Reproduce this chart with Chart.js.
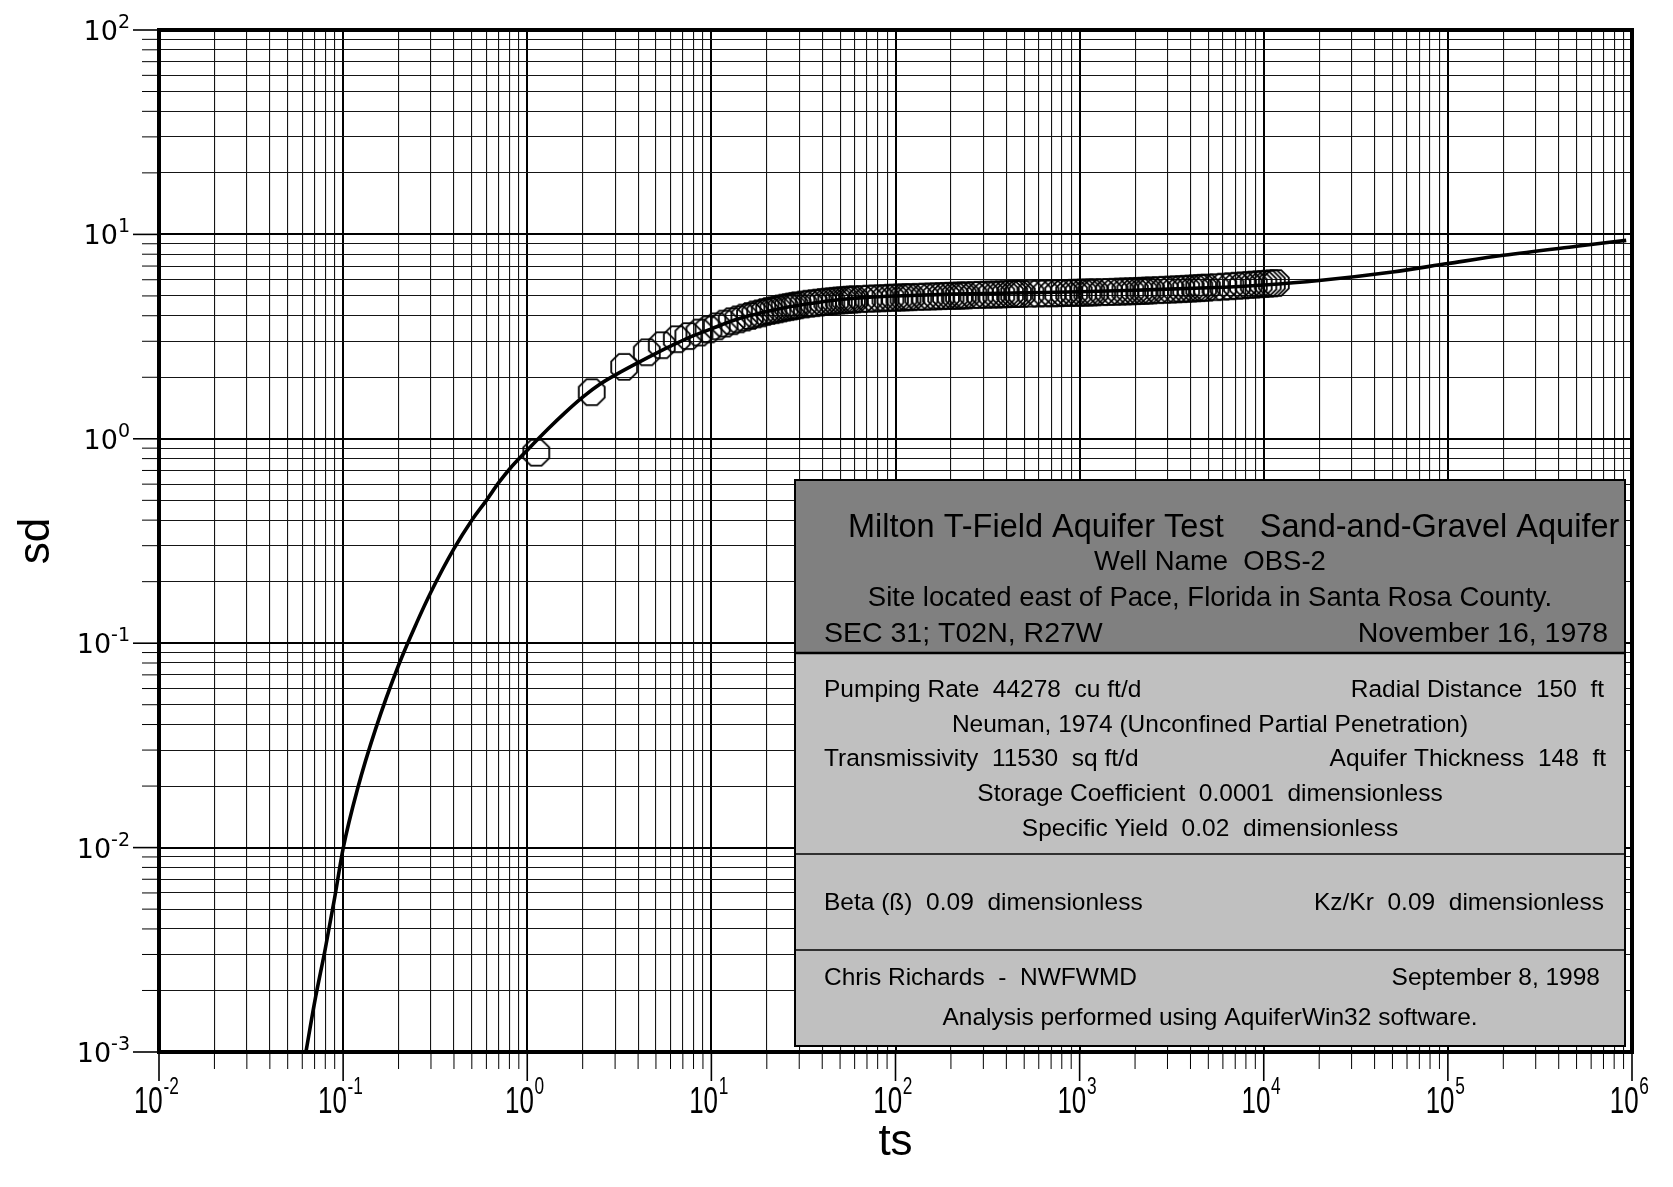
<!DOCTYPE html>
<html><head><meta charset="utf-8">
<script src="https://cdn.jsdelivr.net/npm/chart.js@4.4.1/dist/chart.umd.min.js"></script>
<style>html,body{margin:0;padding:0;background:#fff;overflow:hidden}canvas{display:block}</style>
</head><body>
<canvas id="c" width="1673" height="1187"></canvas>
<script>
// ---- data ----
const curveTs = [0.0628, 0.07, 0.08, 0.09, 0.1, 0.12, 0.15, 0.2, 0.25, 0.3, 0.4, 0.5, 0.6, 0.7, 0.8, 1.0, 1.3, 1.6, 2.0, 2.5, 3.0, 4.0, 5.0, 6.0, 8.0, 10, 13, 16, 20, 25, 30, 40, 50, 70, 100, 200, 500, 1000, 2000, 5000, 10000, 20000, 50000, 100000, 200000, 500000, 930000];
const curveSd = [0.001, 0.00175, 0.0032, 0.0057, 0.0099, 0.0195, 0.038, 0.078, 0.125, 0.178, 0.29, 0.40, 0.50, 0.61, 0.71, 0.88, 1.12, 1.34, 1.60, 1.86, 2.05, 2.36, 2.62, 2.84, 3.20, 3.45, 3.78, 4.00, 4.20, 4.38, 4.50, 4.68, 4.80, 4.92, 5.00, 5.10, 5.18, 5.24, 5.33, 5.48, 5.66, 5.95, 6.55, 7.2, 7.9, 8.75, 9.35];

const obsTs = [1.12, 2.24, 3.36, 4.46, 5.38, 6.49, 7.5, 8.61, 9.64,
  10.7, 11.8, 12.9, 14.0, 15.1, 16.2, 17.3, 18.4, 19.5, 20.6, 21.7, 22.8, 23.9, 25.0, 26.1, 27.2, 28.3, 29.4,
  31.6, 33.8, 36.0, 38.2, 40.4, 42.6, 44.8, 47.0, 49.2, 51.4, 53.6, 55.8, 58.0, 60.2,
  65.8, 71.4, 77.0, 82.6, 88.2, 93.8, 99.4, 105, 110.6, 116.2, 121.8,
  133, 144, 155, 166, 177, 188, 199, 210, 221, 232, 243,
  265, 287, 309, 331, 353, 375, 397, 419, 441, 463, 485,
  541, 597, 653, 709, 765, 821, 877, 933, 989, 1045, 1101, 1157, 1213,
  1325, 1437, 1549, 1661, 1773, 1885, 1997, 2109, 2221, 2333, 2445,
  2669, 2893, 3117, 3341, 3565, 3789, 4013, 4237, 4461, 4685, 4909,
  5469, 6029, 6589, 7149, 7709, 8269, 8829, 9389, 9949, 10509, 11069, 11629];
const obsSd = [0.855, 1.69, 2.25, 2.65, 2.87, 3.07, 3.18, 3.31, 3.43,
  3.55, 3.66, 3.76, 3.84, 3.92, 3.99, 4.06, 4.11, 4.17, 4.22, 4.26, 4.30, 4.34, 4.38, 4.41, 4.44, 4.47, 4.50,
  4.54, 4.58, 4.61, 4.64, 4.67, 4.69, 4.71, 4.73, 4.75, 4.76, 4.78, 4.79, 4.80, 4.81,
  4.83, 4.85, 4.86, 4.87, 4.88, 4.90, 4.90, 4.91, 4.92, 4.93, 4.93,
  4.95, 4.96, 4.97, 4.98, 4.99, 5.00, 5.01, 5.01, 5.02, 5.03, 5.03,
  5.05, 5.06, 5.07, 5.08, 5.08, 5.09, 5.10, 5.11, 5.11, 5.12, 5.12,
  5.13, 5.14, 5.15, 5.15, 5.16, 5.17, 5.17, 5.18, 5.18, 5.19, 5.20, 5.20, 5.21,
  5.22, 5.23, 5.24, 5.25, 5.26, 5.27, 5.28, 5.29, 5.30, 5.31, 5.32,
  5.34, 5.36, 5.37, 5.39, 5.40, 5.42, 5.43, 5.45, 5.46, 5.48, 5.49,
  5.52, 5.55, 5.58, 5.61, 5.63, 5.66, 5.68, 5.70, 5.72, 5.74, 5.76, 5.78];

const xTickExponents = [-2, -1, 0, 1, 2, 3, 4, 5, 6];
const yTickExponents = [-3, -2, -1, 0, 1, 2];
const xTitle = 'ts';
const yTitle = 'sd';

const headerLines = [
  'Milton T-Field Aquifer Test    Sand-and-Gravel Aquifer',
  'Well Name  OBS-2',
  'Site located east of Pace, Florida in Santa Rosa County.'
];
const headerPair = ['SEC 31; T02N, R27W', 'November 16, 1978'];
const paramPair1 = ['Pumping Rate  44278  cu ft/d', 'Radial Distance  150  ft'];
const paramLine1 = 'Neuman, 1974 (Unconfined Partial Penetration)';
const paramPair2 = ['Transmissivity  11530  sq ft/d', 'Aquifer Thickness  148  ft'];
const paramLine2 = 'Storage Coefficient  0.0001  dimensionless';
const paramLine3 = 'Specific Yield  0.02  dimensionless';
const paramPair3 = ['Beta (ß)  0.09  dimensionless', 'Kz/Kr  0.09  dimensionless'];
const footerPair = ['Chris Richards  -  NWFWMD', 'September 8, 1998'];
const footerLine = 'Analysis performed using AquiferWin32 software.';

// ---- helpers ----
function decadeTicks(exps) {
  const out = [];
  for (let i = 0; i < exps.length; i++) {
    const base = Math.pow(10, exps[i]);
    out.push({ value: base, major: true });
    if (i < exps.length - 1) {
      for (let m = 2; m <= 9; m++) out.push({ value: m * base, major: false });
    }
  }
  return out;
}

function octagonCanvas(r, lw, color) {
  const s = Math.ceil(2 * r + lw * 2 + 2);
  const c = document.createElement('canvas');
  c.width = s; c.height = s;
  const g = c.getContext('2d');
  g.strokeStyle = color; g.lineWidth = lw;
  g.beginPath();
  for (let k = 0; k < 8; k++) {
    const ang = Math.PI / 8 + k * Math.PI / 4;
    const x = s / 2 + r * Math.cos(ang), y = s / 2 + r * Math.sin(ang);
    if (k === 0) g.moveTo(x, y); else g.lineTo(x, y);
  }
  g.closePath(); g.stroke();
  return c;
}

const FONT = '"Liberation Sans", Arial, sans-serif';

const decor = {
  id: 'decor',
  afterDatasetsDraw(chart) {
    const ctx = chart.ctx, xs = chart.scales.x, ys = chart.scales.y, a = chart.chartArea;
    ctx.save();

    // ---- info box ----
    const bl = 795, br = 1625, bt = 480, hb = 653, l1 = 854, l2 = 950, bb = 1046;
    const cx = (bl + br) / 2, tl = 824;
    ctx.fillStyle = '#808080'; ctx.fillRect(bl, bt, br - bl, hb - bt);
    ctx.fillStyle = '#c0c0c0'; ctx.fillRect(bl, hb, br - bl, bb - hb);
    ctx.strokeStyle = '#000';
    ctx.lineWidth = 1.5;
    ctx.beginPath(); ctx.moveTo(bl, l1); ctx.lineTo(br, l1); ctx.moveTo(bl, l2); ctx.lineTo(br, l2); ctx.stroke();
    ctx.lineWidth = 2.5;
    ctx.beginPath(); ctx.moveTo(bl, hb); ctx.lineTo(br, hb); ctx.stroke();
    ctx.lineWidth = 2;
    ctx.strokeRect(bl, bt, br - bl, bb - bt);

    ctx.fillStyle = '#000';
    ctx.textBaseline = 'middle';
    // header
    ctx.save();
    ctx.beginPath(); ctx.rect(bl, bt, br - bl - 2, hb - bt); ctx.clip();
    ctx.font = '32.5px ' + FONT; ctx.textAlign = 'left';
    ctx.fillText(headerLines[0], 848, 528);
    ctx.restore();
    ctx.font = '27.5px ' + FONT; ctx.textAlign = 'center';
    ctx.fillText(headerLines[1], cx, 562);
    ctx.fillText(headerLines[2], cx, 598);
    ctx.font = '28.5px ' + FONT;
    ctx.textAlign = 'left'; ctx.fillText(headerPair[0], tl, 634);
    ctx.textAlign = 'right'; ctx.fillText(headerPair[1], 1608, 634);
    // params
    ctx.font = '24.5px ' + FONT;
    ctx.textAlign = 'left'; ctx.fillText(paramPair1[0], tl, 690);
    ctx.textAlign = 'right'; ctx.fillText(paramPair1[1], 1604, 690);
    ctx.textAlign = 'center'; ctx.fillText(paramLine1, cx, 725);
    ctx.textAlign = 'left'; ctx.fillText(paramPair2[0], tl, 759);
    ctx.textAlign = 'right'; ctx.fillText(paramPair2[1], 1606, 759);
    ctx.textAlign = 'center'; ctx.fillText(paramLine2, cx, 794);
    ctx.fillText(paramLine3, cx, 829);
    ctx.textAlign = 'left'; ctx.fillText(paramPair3[0], tl, 903);
    ctx.textAlign = 'right'; ctx.fillText(paramPair3[1], 1604, 903);
    ctx.textAlign = 'left'; ctx.fillText(footerPair[0], tl, 978);
    ctx.textAlign = 'right'; ctx.fillText(footerPair[1], 1600, 978);
    ctx.textAlign = 'center'; ctx.fillText(footerLine, cx, 1018);

    // ---- tick marks outside ----
    ctx.strokeStyle = '#000';
    xs.ticks.forEach(t => {
      const px = xs.getPixelForValue(t.value);
      ctx.lineWidth = t.major ? 1.6 : 1;
      ctx.beginPath(); ctx.moveTo(px, a.bottom); ctx.lineTo(px, a.bottom + (t.major ? 29 : 17)); ctx.stroke();
    });
    ys.ticks.forEach(t => {
      const py = ys.getPixelForValue(t.value);
      ctx.lineWidth = t.major ? 1.6 : 1;
      ctx.beginPath(); ctx.moveTo(a.left, py); ctx.lineTo(a.left - (t.major ? 26 : 17), py); ctx.stroke();
    });

    // ---- frame ----
    ctx.lineWidth = 4;
    ctx.strokeRect(a.left, a.top, a.right - a.left, a.bottom - a.top);

    // ---- x tick labels: 10^n (condensed) ----
    ctx.fillStyle = '#000';
    ctx.textBaseline = 'alphabetic';
    ctx.textAlign = 'left';
    xTickExponents.forEach(e => {
      const px = xs.getPixelForValue(Math.pow(10, e)) - 3;
      ctx.save();
      ctx.translate(px, 1113);
      ctx.scale(0.72, 1);
      ctx.font = '36px ' + FONT;
      const w1 = ctx.measureText('10').width;
      ctx.font = '24px ' + FONT;
      const w2 = ctx.measureText(String(e)).width;
      const start = -(w1 + w2) / 2;
      ctx.font = '36px ' + FONT;
      ctx.fillText('10', start, 0);
      ctx.font = '24px ' + FONT;
      ctx.fillText(String(e), start + w1 + 1, -19);
      ctx.restore();
    });

    // ---- y tick labels ----
    yTickExponents.forEach(e => {
      const py = ys.getPixelForValue(Math.pow(10, e));
      ctx.font = '27px "DejaVu Sans", sans-serif';
      const w1 = ctx.measureText('10').width;
      ctx.font = '19px "DejaVu Sans", sans-serif';
      const w2 = ctx.measureText(String(e)).width;
      const right = 130;
      ctx.font = '27px "DejaVu Sans", sans-serif';
      ctx.fillText('10', right - w1 - w2, py + 10);
      ctx.font = '19px "DejaVu Sans", sans-serif';
      ctx.fillText(String(e), right - w2, py - 2);
    });

    // ---- axis titles ----
    ctx.font = '44px ' + FONT;
    ctx.textAlign = 'center';
    ctx.textBaseline = 'middle';
    ctx.fillText(xTitle, (a.left + a.right) / 2, 1143);
    ctx.save();
    ctx.translate(37, (a.top + a.bottom) / 2);
    ctx.rotate(-Math.PI / 2);
    ctx.fillText(yTitle, 0, 0);
    ctx.restore();

    ctx.restore();
  }
};

const curveData = curveTs.map((x, i) => ({ x, y: curveSd[i] }));
const obsData = obsTs.map((x, i) => ({ x, y: obsSd[i] })).filter(p => p.y !== undefined);
const octo = octagonCanvas(14, 1.8, '#000');

const gridColor = c => (c.tick && c.tick.major) ? '#000' : '#151515';
const gridWidth = c => (c.tick && c.tick.major) ? 2 : 1.1;

new Chart(document.getElementById('c'), {
  type: 'scatter',
  data: {
    datasets: [
      { type: 'line', data: curveData, borderColor: '#000', borderWidth: 3.6, pointRadius: 0,
        cubicInterpolationMode: 'monotone', fill: false, order: 0 },
      { data: obsData, pointStyle: octo, pointRadius: 14, borderColor: '#000', backgroundColor: 'transparent',
        showLine: false, order: 1 }
    ]
  },
  options: {
    responsive: false,
    animation: false,
    devicePixelRatio: 1,
    layout: { padding: { top: 30, right: 41, left: 0, bottom: 0 } },
    plugins: { legend: { display: false }, tooltip: { enabled: false }, title: { display: false } },
    scales: {
      x: {
        type: 'logarithmic', min: 0.01, max: 1e6, position: 'bottom',
        afterBuildTicks: s => { s.ticks = decadeTicks(xTickExponents); },
        afterFit: s => { s.height = 135; },
        ticks: { display: false, autoSkip: false },
        grid: { color: gridColor, lineWidth: gridWidth, drawTicks: false },
        border: { display: false }
      },
      y: {
        type: 'logarithmic', min: 0.001, max: 100, position: 'left',
        afterBuildTicks: s => { s.ticks = decadeTicks(yTickExponents); },
        afterFit: s => { s.width = 159; },
        ticks: { display: false, autoSkip: false },
        grid: { color: gridColor, lineWidth: gridWidth, drawTicks: false },
        border: { display: false }
      }
    }
  },
  plugins: [decor]
});
</script>
</body></html>
